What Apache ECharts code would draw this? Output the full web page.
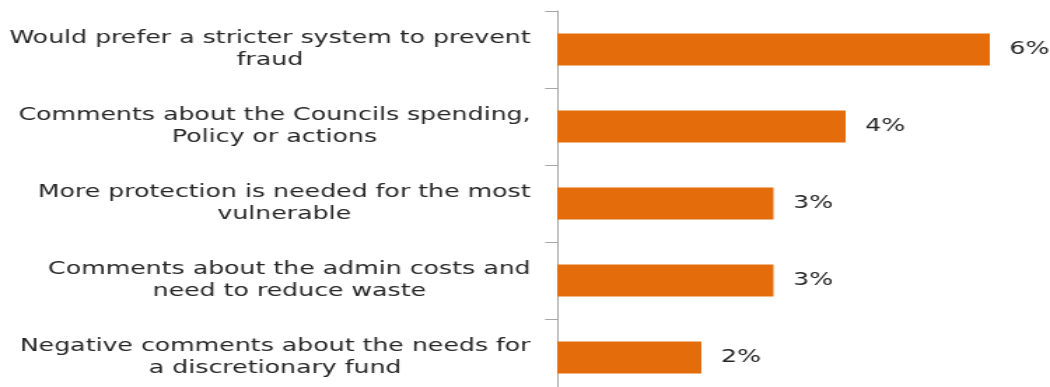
<!DOCTYPE html>
<html>
<head>
<meta charset="utf-8">
<script src="https://cdn.jsdelivr.net/npm/echarts@6/dist/echarts.min.js"></script>
<style>
html,body{margin:0;padding:0;background:#fff;overflow:hidden;}
#wrap{width:1050px;height:387px;overflow:hidden;}
#chart{width:750px;height:396px;transform:scaleX(1.4);transform-origin:0 0;}
</style>
</head>
<body>
<div id="wrap"><div id="chart"></div></div>
<script>
const categories = [
  "Would prefer a stricter system to prevent\nfraud",
  "Comments about the Councils spending,\nPolicy or actions",
  "More protection is needed for the most\nvulnerable",
  "Comments about the admin costs and\nneed to reduce waste",
  "Negative comments about the needs for\na discretionary fund"
];
const values = [6, 4, 3, 3, 2];

const chart = echarts.init(document.getElementById('chart'));
chart.setOption({
  animation: false,
  grid: {left: 398, right: 43, top: 11, bottom: 0, containLabel: false},
  xAxis: {
    type: 'value', min: 0, max: 6,
    show: false
  },
  yAxis: {
    type: 'category', inverse: true, data: categories,
    axisLine: {show: true, lineStyle: {color: '#A6A6A6', width: 1}},
    axisTick: {show: true, length: 8.6, lineStyle: {color: '#A6A6A6', width: 1}},
    axisLabel: {
      margin: 19,
      formatter: function (v) {
        return v.split('\n').map(function (l) { return '{c|' + l + '}'; }).join('\n');
      },
      rich: {
        c: {align: 'center', fontFamily: 'DejaVu Sans', fontSize: 18, color: '#262626', lineHeight: 22}
      }
    }
  },
  series: [{
    type: 'bar', data: values, barWidth: 32,
    itemStyle: {color: '#E46C0A'},
    label: {
      show: true, position: 'right', distance: 14,
      formatter: '{c}%', fontFamily: 'DejaVu Sans', fontSize: 18, color: '#262626'
    }
  }]
});
</script>
</body>
</html>
